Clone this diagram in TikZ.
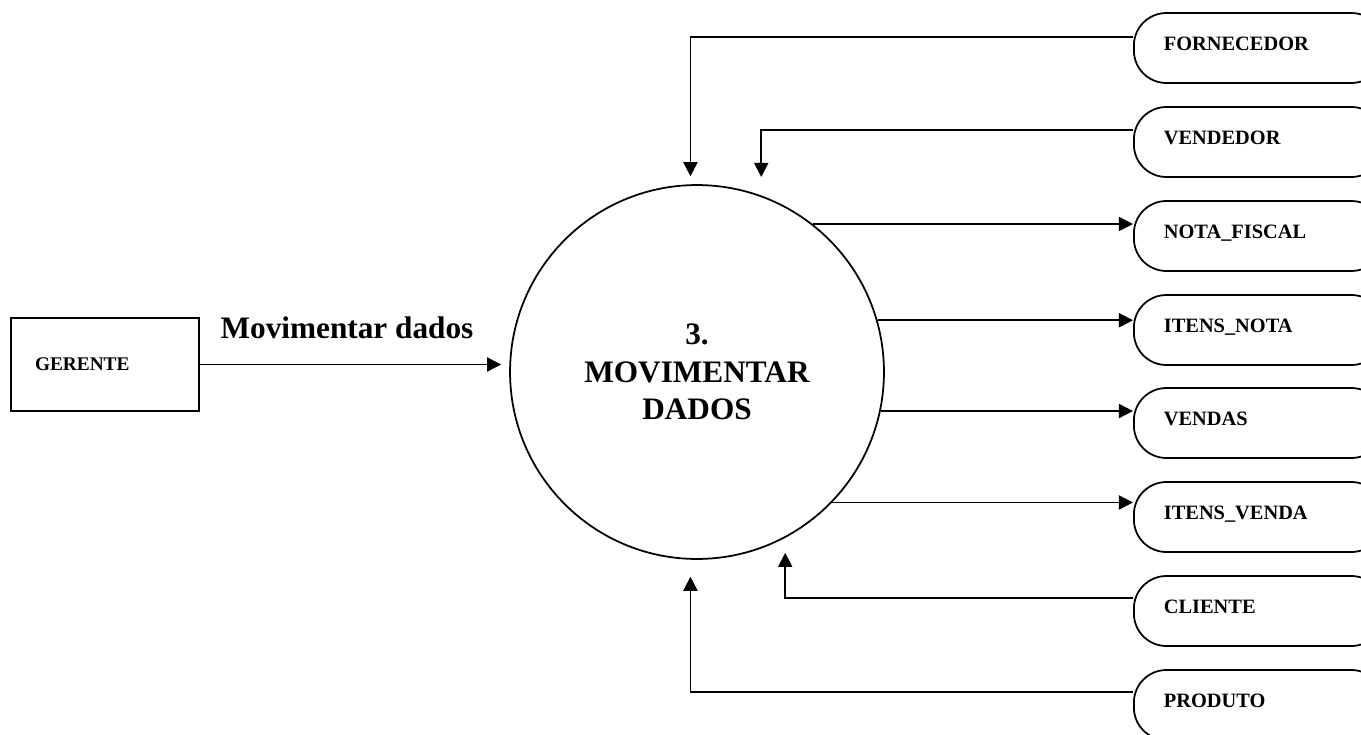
\documentclass[tikz,border=0pt]{standalone}
\usepackage{fontspec}
\setmainfont{Liberation Serif}
\usetikzlibrary{arrows.meta}
\begin{document}
\begin{tikzpicture}[x=0.02cm, y=-0.02cm, line width=1pt, >={Triangle[length=8pt,width=8pt]}]
        \tikzstyle{store} = [draw, rectangle, rounded corners=0.65cm, anchor=west, minimum height=1.4cm, text width=3.8cm, text height=8pt, text depth=5.6pt, inner xsep=0.6cm, align=left, font=\bfseries\fontsize{11.6}{14}\selectfont]
        \tikzstyle{big} = [font=\bfseries\fontsize{17.8}{21.3}\selectfont]
        \useasboundingbox (0,0) rectangle (1361,734);
        \node(Gerente)[draw, rectangle, minimum height=1.86cm, text width=2.8cm, inner xsep=0.48cm, align=left, font=\bfseries\fontsize{11}{13}\selectfont] at (105,364.5) {GERENTE};
        \node(Processo)[draw, circle, minimum size=7.48cm, inner sep=0pt, align=center, big] at (697,372) {3.\\MOVIMENTAR\\DADOS};
        \node(Rotulo)[big] at (347,328) {Movimentar dados};
        \node(Fornecedor)[store] at (1133,48) {FORNECEDOR};
        \node(Vendedor)[store] at (1133,142) {VENDEDOR};
        \node(NotaFiscal)[store] at (1133,236) {NOTA\_FISCAL};
        \node(ItensNota)[store] at (1133,330) {ITENS\_NOTA};
        \node(Vendas)[store] at (1133,423) {VENDAS};
        \node(ItensVenda)[store] at (1133,517) {ITENS\_VENDA};
        \node(Cliente)[store] at (1133,611) {CLIENTE};
        \node(Produto)[store] at (1133,705) {PRODUTO};
        \draw [->, shorten >=0.16cm] (Gerente.east) -- (Gerente.east -| Processo.west);
        \draw [->, shorten >=0.16cm] ([yshift=0.22cm]Fornecedor.west) -| (Processo.92.45);
        \draw [->, shorten >=0.37cm] ([yshift=0.24cm]Vendedor.west) -| (Processo.70.6);
        \draw [->] (Processo.52.8) -- (Processo.52.8 -| NotaFiscal.west);
        \draw [->] (Processo.16.8) -- (Processo.16.8 -| ItensNota.west);
        \draw [->] (Processo.-12) -- (Processo.-12 -| Vendas.west);
        \draw [->] (Processo.-44.9) -- (Processo.-44.9 -| ItensVenda.west);
        \draw [->, shorten >=0.3cm] ([yshift=0.26cm]Cliente.west) -| (Processo.-62.6);
        \draw [->, shorten >=0.34cm] ([yshift=0.26cm]Produto.west) -| (Processo.-92.45);

    \end{tikzpicture}
\end{document}
